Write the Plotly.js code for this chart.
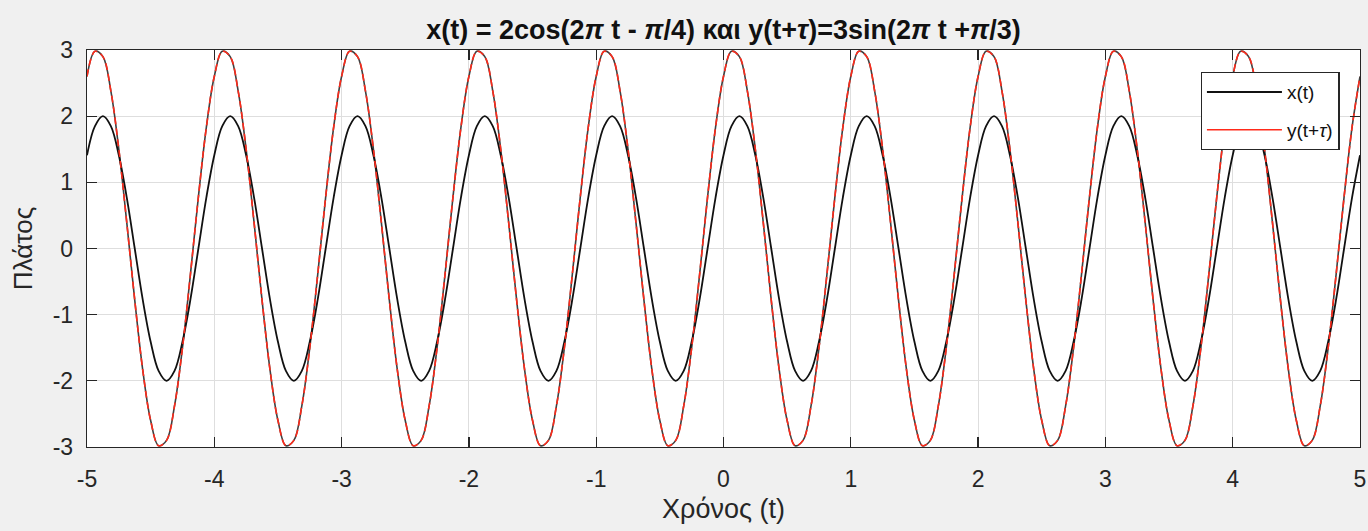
<!DOCTYPE html>
<html>
<head>
<meta charset="utf-8">
<script src="https://cdn.plot.ly/plotly-3.0.1.min.js"></script>
<style>
html,body{margin:0;padding:0;background:#f0f0f0;}
#chart{width:1368px;height:531px;}
</style>
</head>
<body>
<div id="chart"></div>
<script>
// time samples (every 1/16 s)
const t = [
 -5,-4.9375,-4.875,-4.8125,-4.75,-4.6875,-4.625,-4.5625,-4.5,-4.4375,-4.375,-4.3125,-4.25,-4.1875,-4.125,-4.0625,
 -4,-3.9375,-3.875,-3.8125,-3.75,-3.6875,-3.625,-3.5625,-3.5,-3.4375,-3.375,-3.3125,-3.25,-3.1875,-3.125,-3.0625,
 -3,-2.9375,-2.875,-2.8125,-2.75,-2.6875,-2.625,-2.5625,-2.5,-2.4375,-2.375,-2.3125,-2.25,-2.1875,-2.125,-2.0625,
 -2,-1.9375,-1.875,-1.8125,-1.75,-1.6875,-1.625,-1.5625,-1.5,-1.4375,-1.375,-1.3125,-1.25,-1.1875,-1.125,-1.0625,
 -1,-0.9375,-0.875,-0.8125,-0.75,-0.6875,-0.625,-0.5625,-0.5,-0.4375,-0.375,-0.3125,-0.25,-0.1875,-0.125,-0.0625,
 0,0.0625,0.125,0.1875,0.25,0.3125,0.375,0.4375,0.5,0.5625,0.625,0.6875,0.75,0.8125,0.875,0.9375,
 1,1.0625,1.125,1.1875,1.25,1.3125,1.375,1.4375,1.5,1.5625,1.625,1.6875,1.75,1.8125,1.875,1.9375,
 2,2.0625,2.125,2.1875,2.25,2.3125,2.375,2.4375,2.5,2.5625,2.625,2.6875,2.75,2.8125,2.875,2.9375,
 3,3.0625,3.125,3.1875,3.25,3.3125,3.375,3.4375,3.5,3.5625,3.625,3.6875,3.75,3.8125,3.875,3.9375,
 4,4.0625,4.125,4.1875,4.25,4.3125,4.375,4.4375,4.5,4.5625,4.625,4.6875,4.75,4.8125,4.875,4.9375,
 5];

// x(t) values
const xVals = [
 1.41,1.85,2,1.85,1.41,0.77,0,-0.77,-1.41,-1.85,-2,-1.85,-1.41,-0.77,0,0.77,
 1.41,1.85,2,1.85,1.41,0.77,0,-0.77,-1.41,-1.85,-2,-1.85,-1.41,-0.77,0,0.77,
 1.41,1.85,2,1.85,1.41,0.77,0,-0.77,-1.41,-1.85,-2,-1.85,-1.41,-0.77,0,0.77,
 1.41,1.85,2,1.85,1.41,0.77,0,-0.77,-1.41,-1.85,-2,-1.85,-1.41,-0.77,0,0.77,
 1.41,1.85,2,1.85,1.41,0.77,0,-0.77,-1.41,-1.85,-2,-1.85,-1.41,-0.77,0,0.77,
 1.41,1.85,2,1.85,1.41,0.77,0,-0.77,-1.41,-1.85,-2,-1.85,-1.41,-0.77,0,0.77,
 1.41,1.85,2,1.85,1.41,0.77,0,-0.77,-1.41,-1.85,-2,-1.85,-1.41,-0.77,0,0.77,
 1.41,1.85,2,1.85,1.41,0.77,0,-0.77,-1.41,-1.85,-2,-1.85,-1.41,-0.77,0,0.77,
 1.41,1.85,2,1.85,1.41,0.77,0,-0.77,-1.41,-1.85,-2,-1.85,-1.41,-0.77,0,0.77,
 1.41,1.85,2,1.85,1.41,0.77,0,-0.77,-1.41,-1.85,-2,-1.85,-1.41,-0.77,0,0.77,
 1.41];

// y(t+tau) values
const yVals = [
 2.6,2.98,2.9,2.38,1.5,0.39,-0.78,-1.83,-2.6,-2.98,-2.9,-2.38,-1.5,-0.39,0.78,1.83,
 2.6,2.98,2.9,2.38,1.5,0.39,-0.78,-1.83,-2.6,-2.98,-2.9,-2.38,-1.5,-0.39,0.78,1.83,
 2.6,2.98,2.9,2.38,1.5,0.39,-0.78,-1.83,-2.6,-2.98,-2.9,-2.38,-1.5,-0.39,0.78,1.83,
 2.6,2.98,2.9,2.38,1.5,0.39,-0.78,-1.83,-2.6,-2.98,-2.9,-2.38,-1.5,-0.39,0.78,1.83,
 2.6,2.98,2.9,2.38,1.5,0.39,-0.78,-1.83,-2.6,-2.98,-2.9,-2.38,-1.5,-0.39,0.78,1.83,
 2.6,2.98,2.9,2.38,1.5,0.39,-0.78,-1.83,-2.6,-2.98,-2.9,-2.38,-1.5,-0.39,0.78,1.83,
 2.6,2.98,2.9,2.38,1.5,0.39,-0.78,-1.83,-2.6,-2.98,-2.9,-2.38,-1.5,-0.39,0.78,1.83,
 2.6,2.98,2.9,2.38,1.5,0.39,-0.78,-1.83,-2.6,-2.98,-2.9,-2.38,-1.5,-0.39,0.78,1.83,
 2.6,2.98,2.9,2.38,1.5,0.39,-0.78,-1.83,-2.6,-2.98,-2.9,-2.38,-1.5,-0.39,0.78,1.83,
 2.6,2.98,2.9,2.38,1.5,0.39,-0.78,-1.83,-2.6,-2.98,-2.9,-2.38,-1.5,-0.39,0.78,1.83,
 2.6];

const xTicks = [-5,-4,-3,-2,-1,0,1,2,3,4,5];
const yTicks = [-3,-2,-1,0,1,2,3];
const seriesNames = ['x(t)', 'y(t+<i>\u03C4</i>)'];
const titleText = '<b>x(t) = 2cos(2<i>\u03C0</i> t - <i>\u03C0</i>/4) \u03BA\u03B1\u03B9 y(t+<i>\u03C4</i>)=3sin(2<i>\u03C0</i> t +<i>\u03C0</i>/3)</b>';
const xTitle = '\u03A7\u03C1\u03CC\u03BD\u03BF\u03C2 (t)';
const yTitle = '\u03A0\u03BB\u03AC\u03C4\u03BF\u03C2';

const FONT = 'Liberation Sans, Arial, sans-serif';

const traces = [
  {x: t, y: yVals, mode: 'lines', line: {color: '#404040', width: 1.6, shape: 'spline'}, showlegend: false, hoverinfo: 'skip'},
  {x: t, y: xVals, mode: 'lines', name: seriesNames[0], line: {color: '#111111', width: 1.8, shape: 'spline'}},
  {x: t, y: yVals, mode: 'lines', name: seriesNames[1], line: {color: '#ff2a1a', width: 1.6, shape: 'spline', dash: '7px,4px'}, showlegend: false, legendgroup: 'y'},
  {x: [null], y: [null], mode: 'lines', name: seriesNames[1], line: {color: '#ff2a1a', width: 1.6}, legendgroup: 'y'}
];

const axisCommon = {
  showline: true, linecolor: '#262626', linewidth: 1.3, mirror: 'ticks',
  ticks: 'inside', ticklen: 10, tickwidth: 1.3, tickcolor: '#262626',
  showgrid: true, gridcolor: '#dedede', gridwidth: 1, zeroline: false,
  tickfont: {family: FONT, size: 23, color: '#262626'}
};

const layout = {
  width: 1368, height: 531,
  paper_bgcolor: '#f0f0f0', plot_bgcolor: '#ffffff',
  margin: {l: 87, r: 8, t: 50, b: 84},
  font: {family: FONT, color: '#262626'},
  title: {text: titleText, x: 0.5, xref: 'paper', y: 0.945, yref: 'container', yanchor: 'middle',
          font: {family: FONT, size: 27, color: '#111111'}},
  xaxis: Object.assign({}, axisCommon, {range: [-5, 5], tickvals: xTicks, ticktext: xTicks.map(String),
          ticklabelstandoff: 11,
          title: {text: xTitle, standoff: 8, font: {family: FONT, size: 27, color: '#262626'}}}),
  yaxis: Object.assign({}, axisCommon, {range: [-3, 3], tickvals: yTicks, ticktext: yTicks.map(String),
          ticklabelstandoff: 8,
          title: {text: yTitle, standoff: 12, font: {family: FONT, size: 26, color: '#262626'}}}),
  legend: {x: 0.984, xanchor: 'right', y: 0.945, yanchor: 'top', bgcolor: '#ffffff',
           bordercolor: '#262626', borderwidth: 1.3, itemwidth: 75,
           font: {family: FONT, size: 19, color: '#111111'}},
  showlegend: true
};

Plotly.newPlot('chart', traces, layout, {displayModeBar: false, staticPlot: true});
</script>
</body>
</html>
